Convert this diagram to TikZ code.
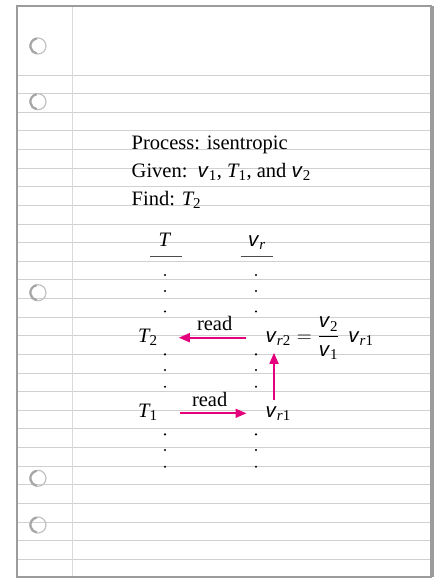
\documentclass[tikz,border=0pt]{standalone}
\usepackage{amsmath}
\usepackage{fontspec}
\setmainfont{Liberation Serif}
\setsansfont{Liberation Sans}
\usepackage{xcolor}
\usepackage{tikz}
\usetikzlibrary{arrows.meta, positioning}
\DeclareMathSizes{20.5}{20.5}{15}{12}
\definecolor{readpink}{HTML}{E4007C}
\definecolor{paperline}{HTML}{D0D0D0}
\definecolor{paperedge}{HTML}{9C9C9C}
\definecolor{holegray}{HTML}{A6A6A6}
\newcommand{\sv}{\textsf{\textit{v}}}

\begin{document}
\begin{tikzpicture}[x=1pt, y=-1pt,
  font=\fontsize{20.5}{24}\selectfont,
  ruled/.style={draw=paperline, line width=1pt},
  edge/.style={draw=paperedge, line width=2pt},
  hole/.style={draw=holegray!70, line width=1.2pt},
  txt/.style={anchor=base west, inner sep=0pt},
  head/.style={anchor=base, inner sep=0pt},
  uline/.style={draw=black!70, line width=1pt},
  arrow/.style={-{Triangle[length=11pt, width=9pt]}, line width=1.7pt, color=readpink},
  readlbl/.style={midway, above=6pt, inner sep=0pt, text=black}
]
  \useasboundingbox (0,0) rectangle (437,578);

  % the ruled sheet
  \foreach \i in {0,...,26}
    \draw[ruled] (17,{75+18.63*\i}) -- (431,{75+18.63*\i});
  \draw[ruled, draw=paperline!80] (72,6) -- (72,577);
  \draw[edge] (17,6) rectangle (431,577);
  \draw[edge] (432.5,6) -- (432.5,577);
  \foreach \y in {46,101.7,292.7,478.3,525} {
    \draw[hole] (38,\y) circle (8pt);
    \draw[draw=holegray, line width=2.2pt] (38,\y) ++(100:7.6pt) arc[start angle=100, end angle=260, radius=7.6pt];
  }

  % problem statement
  \node[txt] (proc)  at (131.5,149) {Process: isentropic};
  \node[txt] (given) at (131.5,177) {Given:\ \ $\sv_{\textup{1}}$, $\textit{T}_{\textup{1}}$, and $\sv_{\textup{2}}$};
  \node[txt] (find)  at (131.5,205) {Find: $\textit{T}_{\textup{2}}$};

  % table columns
  \node[head] (hT) at (165,246.7) {\textit{T}};
  \node[head] (hv) at (257,246.7) {$\sv_{\textit{r}}$};
  \draw[uline] (hT.base) ++(-15,9.3) -- ++(32,0);
  \draw[uline] (hv.base) ++(-16.3,9.3) -- ++(32,0);
  \foreach \y in {275,291,311.5,354.3,370,386.7,434.3,450,466.7} {
    \fill (165,\y) circle (1.2pt);
    \fill (256,\y) circle (1.2pt);
  }

  \node[txt] (T2)  at (138,342)   {$\textit{T}_{\textup{2}}$};
  \node[txt] (vr2) at (265.5,342) {$\sv_{\textit{r}\textup{2}}$};
  \node[txt] (eq)  at (vr2.base east) {${}={}\dfrac{\sv_{\textup{2}}}{\sv_{\textup{1}}}\;\,\sv_{\textit{r}\textup{1}}$};
  \node[txt] (T1)  at (138,417)   {$\textit{T}_{\textup{1}}$};
  \node[txt] (vr1) at (265.5,417) {$\sv_{\textit{r}\textup{1}}$};

  \draw[arrow, shorten <=19.5pt, shorten >=21pt] ([yshift=4.3pt]vr2.base west) -- ([yshift=4.3pt]vr2.base west -| T2.east)
    node[readlbl, xshift=3pt] {read};
  \draw[arrow, shorten <=22pt, shorten >=19pt] ([yshift=3.7pt]T1.base east) -- ([yshift=3.7pt]T1.base east -| vr1.west)
    node[readlbl, xshift=-2pt] {read};
  \draw[arrow, shorten <=6.4pt, shorten >=7.5pt] ([xshift=8.5pt]vr1.north west) -- ([xshift=8.5pt]vr1.north west |- vr2.south);
\end{tikzpicture}
\end{document}
